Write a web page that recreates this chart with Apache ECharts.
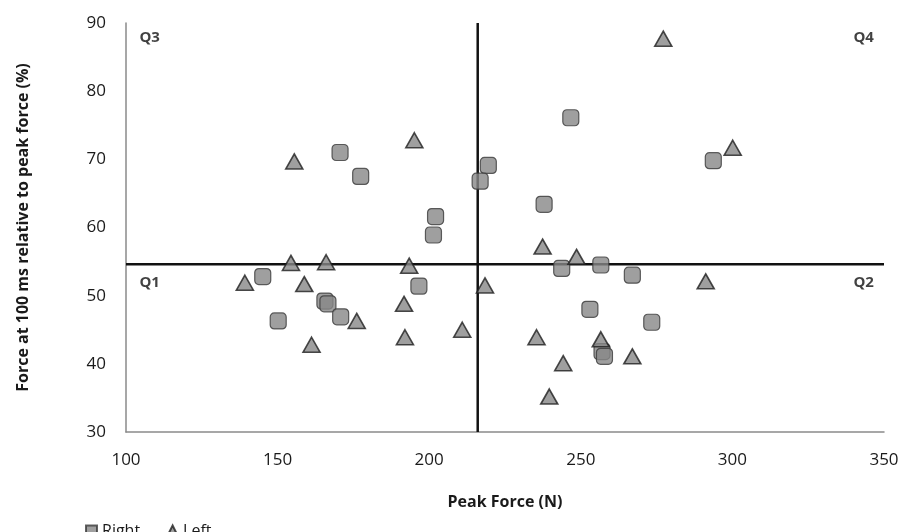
<!DOCTYPE html>
<html>
<head>
<meta charset="utf-8">
<script src="https://cdn.jsdelivr.net/npm/echarts@6/dist/echarts.min.js"></script>
<style>
html,body{margin:0;padding:0;background:#fff;}
#chart{width:906px;height:532px;}
</style>
</head>
<body>
<div id="chart"></div>
<script>
// Peak Force (N), Force at 100 ms relative to peak force (%)
const rightX = [170.6, 177.4, 219.5, 216.8, 202.1, 201.4, 246.7, 293.7, 237.9, 145.1, 196.6, 165.6, 166.6, 170.8, 150.2, 243.7, 256.6, 267.0, 253.0, 273.4, 257.0, 257.8];
const rightY = [71.0, 67.5, 69.1, 66.8, 61.6, 58.9, 76.1, 69.8, 63.4, 52.8, 51.4, 49.2, 48.8, 46.9, 46.3, 54.0, 54.5, 53.0, 48.0, 46.1, 41.8, 41.1];
const leftX = [155.5, 195.1, 277.2, 300.1, 237.4, 154.4, 166.0, 193.4, 139.2, 158.8, 218.4, 191.7, 176.1, 210.9, 192.0, 161.2, 248.6, 291.2, 235.4, 256.6, 267.0, 244.2, 239.6];
const leftY = [69.7, 72.8, 87.7, 71.7, 57.2, 54.8, 54.9, 54.4, 51.9, 51.7, 51.5, 48.8, 46.3, 45.0, 43.9, 42.8, 55.7, 52.1, 43.9, 43.6, 41.1, 40.1, 35.2];
const xTicks = [100, 150, 200, 250, 300, 350];
const yTicks = [30, 40, 50, 60, 70, 80, 90];
const hLineY = 54.6;   // horizontal quadrant divider
const vLineX = 216;    // vertical quadrant divider
const quadNames = ['Q3', 'Q4', 'Q1', 'Q2'];
const quadX = [107.8, 343.3, 107.8, 343.3];
const quadY = [87.9, 87.9, 51.9, 51.9];

const FONT = '"Open Sans", "DejaVu Sans", sans-serif';
const TXT = '#1a1a1a';

function pairs(xs, ys){ return xs.map((x,i)=>[x, ys[i]]); }

const chart = echarts.init(document.getElementById('chart'), null, {renderer:'canvas'});
chart.setOption({
  backgroundColor:'#fff',
  animation:false,
  textStyle:{fontFamily:FONT},
  grid:{left:126, right:22, top:23, bottom:100},
  legend:{
    left:80, top:518,
    itemWidth:11, itemHeight:11, itemGap:26,
    textStyle:{fontSize:16, color:TXT, fontFamily:FONT},
    data:[
      {name:'Right', icon:'rect'},
      {name:'Left', icon:'triangle'}
    ]
  },
  xAxis:{
    type:'value', min:xTicks[0], max:xTicks[xTicks.length-1], interval:50,
    name:'Peak Force (N)', nameLocation:'middle', nameGap:62,
    nameTextStyle:{fontSize:16, fontWeight:'bold', color:TXT, fontFamily:FONT},
    axisLine:{show:true, lineStyle:{color:'#8a8a8a', width:1.5}},
    axisTick:{show:false},
    splitLine:{show:false},
    axisLabel:{fontSize:17, color:TXT, margin:20, fontFamily:FONT}
  },
  yAxis:{
    type:'value', min:yTicks[0], max:yTicks[yTicks.length-1], interval:10,
    name:'Force at 100 ms relative to peak force (%)', nameLocation:'middle', nameGap:95,
    nameTextStyle:{fontSize:16, fontWeight:'bold', color:TXT, fontFamily:FONT},
    axisLine:{show:true, lineStyle:{color:'#8a8a8a', width:1.5}},
    axisTick:{show:false},
    splitLine:{show:false},
    axisLabel:{fontSize:17, color:TXT, margin:20, fontFamily:FONT}
  },
  series:[
    {
      type:'line', silent:true, symbol:'none',
      data:[[xTicks[0], hLineY],[xTicks[xTicks.length-1], hLineY]],
      lineStyle:{color:'#111', width:2.5}, z:1
    },
    {
      type:'line', silent:true, symbol:'none',
      data:[[vLineX, yTicks[0]],[vLineX, yTicks[yTicks.length-1]]],
      lineStyle:{color:'#111', width:2.5}, z:1
    },
    {
      name:'Right', type:'scatter', symbol:'roundRect', symbolSize:16,
      data:pairs(rightX, rightY),
      itemStyle:{color:'#878787', borderColor:'#3a3a3a', borderWidth:1.2},
      z:3
    },
    {
      name:'Left', type:'scatter', symbol:'triangle', symbolSize:[17,15],
      data:pairs(leftX, leftY),
      itemStyle:{color:'#878787', borderColor:'#1e1e1e', borderWidth:1.6},
      z:3
    },
    {
      type:'scatter', silent:true, symbolSize:0,
      data:quadNames.map((n,i)=>({name:n, value:[quadX[i], quadY[i]]})),
      label:{show:true, position:'inside', formatter:p=>p.name,
        fontSize:15, fontWeight:'bold', color:'#111', fontFamily:FONT},
      z:4
    }
  ]
});
</script>
</body>
</html>
